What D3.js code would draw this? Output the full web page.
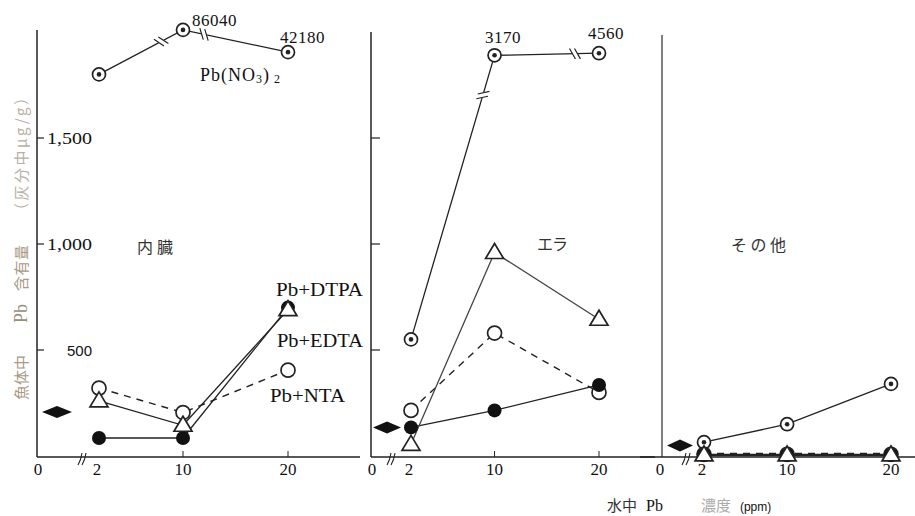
<!DOCTYPE html>
<html>
<head>
<meta charset="utf-8">
<script src="https://cdn.jsdelivr.net/npm/d3@7"></script>
<style>
  body { margin: 0; background: #fff; }
  text { font-family: "Liberation Serif", "DejaVu Serif", serif; fill: #111; }
  .jp { font-family: "Noto Sans CJK JP", sans-serif; }
</style>
</head>
<body>
<svg id="chart" width="915" height="516"></svg>
<script>
// values (ug/g ash)
let concs = [2, 10, 20];
let organs = ["内臓", "エラ", "その他"];
let nitrate = [[1800, 2010, 1905], [550, 1890, 1900], [65, 150, 340]];
let nitrateLabels = [[null, "86040", "42180"], [null, "3170", "4560"], [null, null, null]];
let dtpa = [[85, 85, 700], [135, 215, 335], [5, 5, 5]];
let edta = [[260, 145, 690], [55, 960, 645], [5, 5, 5]];
let nta = [[320, 205, 405], [215, 580, 300], [8, 8, 8]];
let control = [207, 135, 50];
let yTicks = [500, 1000, 1500];
let yTickLabels = ["500", "1,000", "1,500"];

let svg = d3.select("#chart");
let y = d3.scaleLinear().domain([0, 1500]).range([456, 138]);

// panel layout
let panels = [
    {ax: 37, x0: 99, x1: 288, axEnd: 360, top: 30, lineStart: 37, brk: [0.74, 0.2], bx: 82},
    {ax: 371, x0: 411, x1: 599, axEnd: 655, top: 32, lineStart: 371, brk: [0.86, 0.77], bx: 391},
    {ax: 662, x0: 704, x1: 891, axEnd: 915, top: 35, lineStart: 640, brk: [null, null], bx: 686}
];
// label spots: [x, baseline]
let nitrateLabelPos = [[null, [192, 26], [280, 43]], [null, [485, 43], [588, 39]]];
let titlePos = [[137, 253, 36], [537, 250, 31], [731, 251, 55]];

function breakMark(g, xa, ya, xb, yb, t) {
    let px = xa + (xb - xa) * t, py = ya + (yb - ya) * t;
    let ang = Math.atan2(yb - ya, xb - xa);
    let ux = Math.cos(ang), uy = Math.sin(ang);
    g.append("line").attr("x1", px - ux * 3).attr("y1", py - uy * 3)
        .attr("x2", px + ux * 3).attr("y2", py + uy * 3)
        .attr("stroke", "#fff").attr("stroke-width", 4);
    [-2.5, 2.5].forEach(d => {
        let cx = px + ux * d, cy = py + uy * d;
        let a2 = ang + Math.PI / 2 - 0.5;
        g.append("line")
            .attr("x1", cx - Math.cos(a2) * 6).attr("y1", cy - Math.sin(a2) * 6)
            .attr("x2", cx + Math.cos(a2) * 6).attr("y2", cy + Math.sin(a2) * 6)
            .attr("stroke", "#222").attr("stroke-width", 1.2);
    });
}

panels.forEach((p, i) => {
    let g = svg.append("g");
    let x = d3.scaleLinear().domain([2, 20]).range([p.x0, p.x1]);

    // axes
    g.append("line").attr("x1", p.ax).attr("x2", p.ax).attr("y1", p.top).attr("y2", 457)
        .attr("stroke", i == 2 ? "#555" : "#222").attr("stroke-width", 1.5);
    g.append("line").attr("x1", p.lineStart).attr("x2", p.axEnd).attr("y1", 457).attr("y2", 457)
        .attr("stroke", "#222").attr("stroke-width", 1.6);

    if (i < 2) {
        yTicks.forEach(t => {
            g.append("line").attr("x1", p.ax).attr("x2", p.ax + (i == 0 ? 7 : 9))
                .attr("y1", y(t)).attr("y2", y(t)).attr("stroke", "#222").attr("stroke-width", 1.2);
        });
    }
    if (i == 0) {
        yTicks.forEach((t, k) => {
            g.append("text").attr("x", k == 0 ? 67 : 47).attr("y", y(t) + 6)
                .attr("font-size", k == 0 ? 15 : 17)
                .attr("textLength", k == 0 ? 25 : 45).attr("lengthAdjust", "spacingAndGlyphs")
                .style("font-family", k == 0 ? "'Liberation Sans', sans-serif" : null)
                .text(yTickLabels[k]);
        });
    }

    // x ticks and labels
    concs.forEach(c => {
        if (c != 2) g.append("line").attr("x1", x(c)).attr("x2", x(c)).attr("y1", 451).attr("y2", 457)
            .attr("stroke", "#222").attr("stroke-width", 1);
        g.append("text").attr("x", x(c) - (c == 2 ? 2 : 0)).attr("y", 475).attr("text-anchor", "middle")
            .attr("font-size", 17).text(c);
    });
    g.append("text").attr("x", p.ax + (i == 2 ? -2 : 1)).attr("y", 475).attr("text-anchor", "middle")
        .attr("font-size", 17).text("0");
    // axis break
    [-2, 2].forEach(d => {
        g.append("path").attr("d", `M${p.bx + d - 2},${465} Q${p.bx + d + 1},${460} ${p.bx + d + 2},${453}`)
            .attr("fill", "none").attr("stroke", "#222").attr("stroke-width", 1.1);
    });

    // control diamond
    let dw = [15, 14, 13][i];
    let dx = [57, 387, 680][i], dy = y(control[i]);
    g.append("path").attr("d", `M${dx - dw},${dy} L${dx},${dy - 6} L${dx + dw},${dy} L${dx},${dy + 6}Z`)
        .attr("fill", "#111");

    let line = d3.line().x((d, k) => x(concs[k])).y(d => y(d));

    // Pb(NO3)2
    g.append("path").datum(nitrate[i]).attr("d", line).attr("fill", "none")
        .attr("stroke", "#222").attr("stroke-width", 1.3);
    [0, 1].forEach(s => {
        if (p.brk[s] != null) breakMark(g, x(concs[s]), y(nitrate[i][s]), x(concs[s + 1]), y(nitrate[i][s + 1]), p.brk[s]);
    });

    // Pb+NTA dashed
    g.append("path").datum(nta[i]).attr("d", line).attr("fill", "none")
        .attr("stroke", "#222").attr("stroke-width", i == 2 ? 3 : 1.4).attr("stroke-dasharray", "7,6");
    // Pb+DTPA
    g.append("path").datum(dtpa[i]).attr("d", line).attr("fill", "none")
        .attr("stroke", "#222").attr("stroke-width", i == 2 ? 2.5 : 1.3);
    // Pb+EDTA
    g.append("path").datum(edta[i]).attr("d", line).attr("fill", "none")
        .attr("stroke", i == 1 ? "#444" : "#222").attr("stroke-width", 1.3);

    // markers
    nitrate[i].forEach((v, k) => {
        g.append("circle").attr("cx", x(concs[k])).attr("cy", y(v)).attr("r", 6.5)
            .attr("fill", "#fff").attr("stroke", "#222").attr("stroke-width", 1.7);
        g.append("circle").attr("cx", x(concs[k])).attr("cy", y(v)).attr("r", 2.3).attr("fill", "#222");
        if (nitrateLabels[i][k]) {
            let lp = nitrateLabelPos[i][k];
            g.append("text").attr("x", lp[0]).attr("y", lp[1])
                .attr("font-size", 17).attr("letter-spacing", 0.5).text(nitrateLabels[i][k]);
        }
    });
    nta[i].forEach((v, k) => {
        g.append("circle").attr("cx", x(concs[k])).attr("cy", y(v)).attr("r", 7)
            .attr("fill", "#fff").attr("stroke", "#222").attr("stroke-width", 1.7);
    });
    dtpa[i].forEach((v, k) => {
        g.append("circle").attr("cx", x(concs[k])).attr("cy", y(v)).attr("r", 7).attr("fill", "#111");
    });
    edta[i].forEach((v, k) => {
        let cx = x(concs[k]), cy = y(v);
        g.append("path").attr("d", `M${cx},${cy - 9} L${cx + 9},${cy + 6} L${cx - 9},${cy + 6}Z`)
            .attr("fill", "#fff").attr("stroke", "#222").attr("stroke-width", 1.7);
    });

    // organ title
    let tp = titlePos[i];
    g.append("text").attr("class", "jp").attr("x", tp[0]).attr("y", tp[1])
        .attr("textLength", tp[2]).attr("lengthAdjust", "spacing")
        .attr("font-size", 16).style("fill", "#333").text(organs[i]);
});

// series labels
let lab = svg.append("g").attr("font-size", 18);
let nl = lab.append("text").attr("x", 200).attr("y", 81).attr("letter-spacing", 1);
nl.append("tspan").text("Pb(NO");
nl.append("tspan").attr("font-size", 12).attr("dy", 2).text("3");
nl.append("tspan").attr("dy", -2).text(")");
nl.append("tspan").attr("font-size", 12).attr("dy", 2).attr("dx", 4).text("2");
lab.append("text").attr("x", 276).attr("y", 296).attr("textLength", 87).attr("lengthAdjust", "spacingAndGlyphs").text("Pb+DTPA");
lab.append("text").attr("x", 277).attr("y", 347).attr("textLength", 86).attr("lengthAdjust", "spacingAndGlyphs").text("Pb+EDTA");
lab.append("text").attr("x", 270).attr("y", 402).attr("textLength", 75).attr("lengthAdjust", "spacingAndGlyphs").text("Pb+NTA");

// y axis title, in pieces as set in the original
let yTitle = [["魚体中", 400, 45, "#a89a86"], ["Pb", 323, null, "#9a8c78"], ["含有量", 291, 46, "#a89a86"], ["（灰分中μg/g）", 218, 128, "#b8b0a6"]];
let yt = svg.append("g").attr("transform", "translate(27,0) rotate(-90)");
yTitle.forEach(s => {
    let t = yt.append("text").attr("class", s[0] == "Pb" ? null : "jp").attr("x", -s[1]).attr("y", 0)
        .attr("font-size", s[0] == "Pb" ? 18 : 15).style("fill", s[3]).text(s[0]);
    if (s[2]) t.attr("textLength", s[2]).attr("lengthAdjust", "spacing");
});

// x axis title
let xt = svg.append("text").attr("x", 607).attr("y", 511).attr("font-size", 15);
xt.append("tspan").attr("class", "jp").style("fill", "#333").text("水中");
xt.append("tspan").attr("dx", 9).attr("font-size", 16).text("Pb");
xt.append("tspan").attr("class", "jp").attr("dx", 38).style("fill", "#aaa").text("濃度");
xt.append("tspan").attr("dx", 9).attr("font-size", 12).style("font-family", "'Liberation Sans', sans-serif").text("(ppm)");
</script>
</body>
</html>
